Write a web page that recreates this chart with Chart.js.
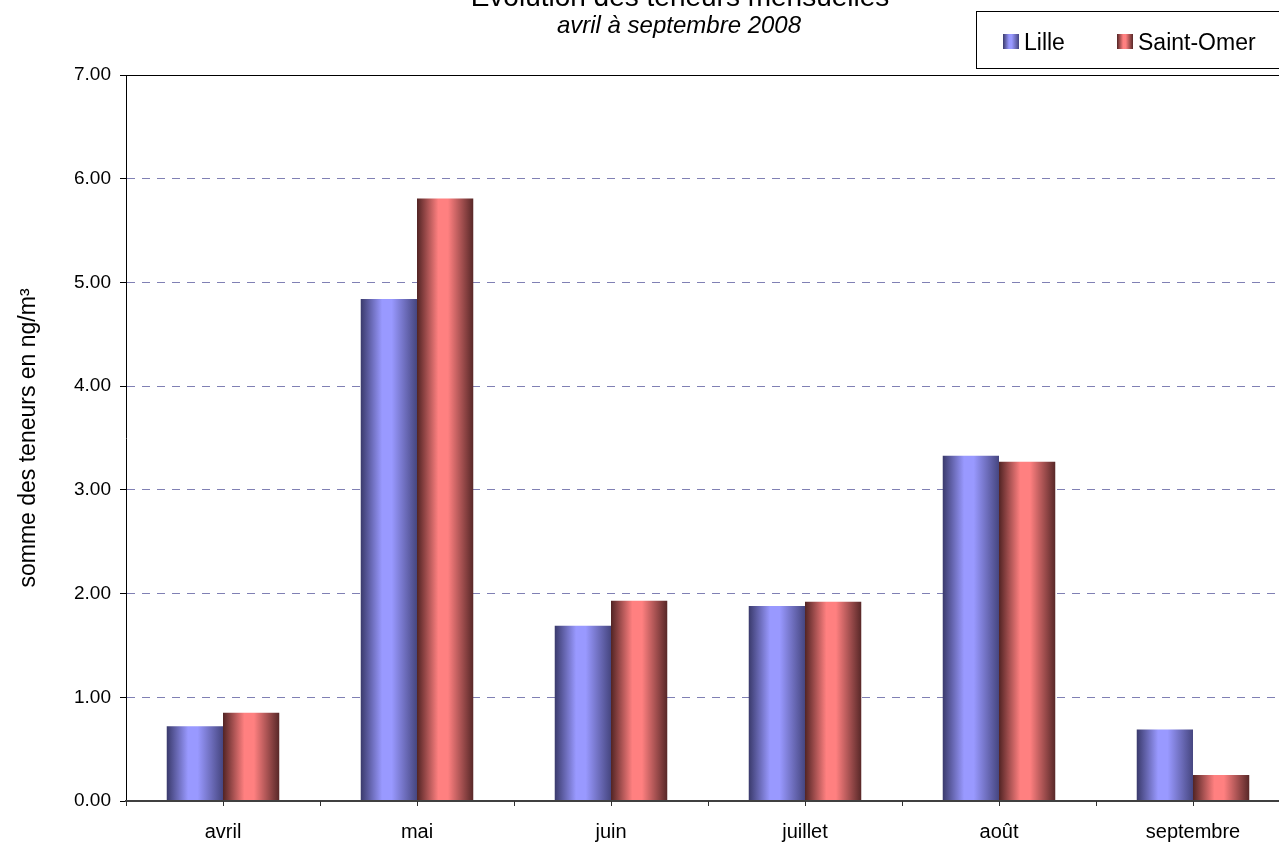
<!DOCTYPE html>
<html><head><meta charset="utf-8">
<script src="https://cdn.jsdelivr.net/npm/chart.js@4/dist/chart.umd.min.js"></script>
<style>
html,body{margin:0;padding:0;overflow:hidden;background:#fff;width:1279px;height:843px}
#wrap{position:absolute;left:0;top:0;width:1300px;height:843px}
canvas{display:block}
</style>
</head><body><div id="wrap"><canvas id="c" width="1300" height="843"></canvas></div>
<script>
const categories = ['avril', 'mai', 'juin', 'juillet', 'août', 'septembre'];
const seriesNames = ['Lille', 'Saint-Omer'];
const lilleValues = [0.72, 4.84, 1.69, 1.88, 3.33, 0.69];
const saintOmerValues = [0.85, 5.81, 1.93, 1.92, 3.27, 0.25];
const yTicks = [0, 1, 2, 3, 4, 5, 6, 7];
const titleText = 'Evolution des teneurs mensuelles';
const subtitleText = 'avril à septembre 2008';
const yAxisTitle = 'somme des teneurs en ng/m³';

const FONT = '"Liberation Sans", Arial, sans-serif';
const CAT_PCT = 0.58;
const palettes = [
  {dark: '#3a3a6c', light: '#9999ff', right: '#464680'},
  {dark: '#522424', light: '#ff8080', right: '#582828'}
];

function gradient(ctx, left, width, p) {
  const g = ctx.createLinearGradient(left, 0, left + width, 0);
  g.addColorStop(0, p.dark);
  g.addColorStop(0.38, p.light);
  g.addColorStop(0.55, p.light);
  g.addColorStop(1, p.right);
  return g;
}

function barColor(c) {
  const chart = c.chart;
  const p = palettes[c.datasetIndex] || palettes[0];
  const x = chart.scales && chart.scales.x;
  if (!x || !chart.chartArea || c.dataIndex === undefined) return p.light;
  const cat = x.width / categories.length;
  const bw = cat * CAT_PCT / 2;
  const center = x.getPixelForValue(c.dataIndex);
  const left = c.datasetIndex === 0 ? center - bw : center;
  return gradient(chart.ctx, left, bw, p);
}

const decorPlugin = {
  id: 'decor',
  afterDraw(chart) {
    const ctx = chart.ctx;
    const ca = chart.chartArea;
    const x = chart.scales.x;
    ctx.save();
    ctx.strokeStyle = '#000'; ctx.lineWidth = 1;
    ctx.beginPath(); ctx.moveTo(ca.left, Math.round(ca.top) + 0.5); ctx.lineTo(ca.right, Math.round(ca.top) + 0.5); ctx.stroke();
    const cat = x.width / categories.length;
    ctx.strokeStyle = '#303030'; ctx.lineWidth = 1;
    ctx.beginPath();
    for (let i = 0; i < categories.length; i++) {
      const c = x.getPixelForValue(i);
      [c - cat / 2, c].forEach(px => {
        const xx = Math.round(px) + 0.5;
        ctx.moveTo(xx, ca.bottom); ctx.lineTo(xx, ca.bottom + 5);
      });
    }
    ctx.stroke();
    ctx.fillStyle = '#000';
    ctx.textAlign = 'center'; ctx.textBaseline = 'alphabetic';
    ctx.font = '28px ' + FONT;
    ctx.fillText(titleText, 680, 6);
    ctx.font = 'italic 24px ' + FONT;
    ctx.fillText(subtitleText, 679, 33);
    ctx.strokeStyle = '#000'; ctx.lineWidth = 1;
    ctx.strokeRect(976.5, 11.5, 400, 57);
    ctx.font = '23px ' + FONT;
    ctx.textAlign = 'left';
    const items = [{sx: 1003, tx: 1024}, {sx: 1117, tx: 1138}];
    chart.data.datasets.forEach((ds, i) => {
      const it = items[i];
      ctx.fillStyle = gradient(ctx, it.sx, 16, palettes[i]);
      ctx.fillRect(it.sx, 34, 16, 15);
      ctx.fillStyle = '#000';
      ctx.fillText(ds.label, it.tx, 50);
    });
    ctx.restore();
  }
};

new Chart(document.getElementById('c'), {
  type: 'bar',
  data: {
    labels: categories,
    datasets: [
      {label: seriesNames[0], data: lilleValues, backgroundColor: barColor, borderWidth: 0, categoryPercentage: CAT_PCT, barPercentage: 1.0},
      {label: seriesNames[1], data: saintOmerValues, backgroundColor: barColor, borderWidth: 0, categoryPercentage: CAT_PCT, barPercentage: 1.0}
    ]
  },
  options: {
    responsive: false,
    animation: false,
    devicePixelRatio: 1,
    layout: {padding: {top: 75, right: 10, left: 0, bottom: 0}},
    plugins: {legend: {display: false}, title: {display: false}, tooltip: {enabled: false}},
    scales: {
      x: {
        offset: true,
        grid: {display: true, drawOnChartArea: false, drawTicks: false},
        border: {color: '#404040', width: 2, z: 1},
        ticks: {font: {family: FONT, size: 20}, color: '#000', padding: 19},
        afterFit: s => { s.height = 42; }
      },
      y: {
        min: 0, max: 7,
        afterBuildTicks: s => { s.ticks = yTicks.map(v => ({value: v})); },
        ticks: {font: {family: FONT, size: 19}, color: '#000', padding: 9, callback: v => Number(v).toFixed(2)},
        grid: {
          color: c => (c.tick && (c.tick.value === 0 || c.tick.value === 7)) ? 'rgba(0,0,0,0)' : '#8080b4',
          tickColor: '#000', tickLength: 6, lineWidth: 1
        },
        border: {color: '#000', width: 1, dash: [8, 7]},
        title: {display: true, text: yAxisTitle, font: {family: FONT, size: 23}, color: '#000', padding: {top: 15, bottom: 0}},
        afterFit: s => { s.width = 126; }
      }
    }
  },
  plugins: [decorPlugin]
});
</script>
</body></html>
